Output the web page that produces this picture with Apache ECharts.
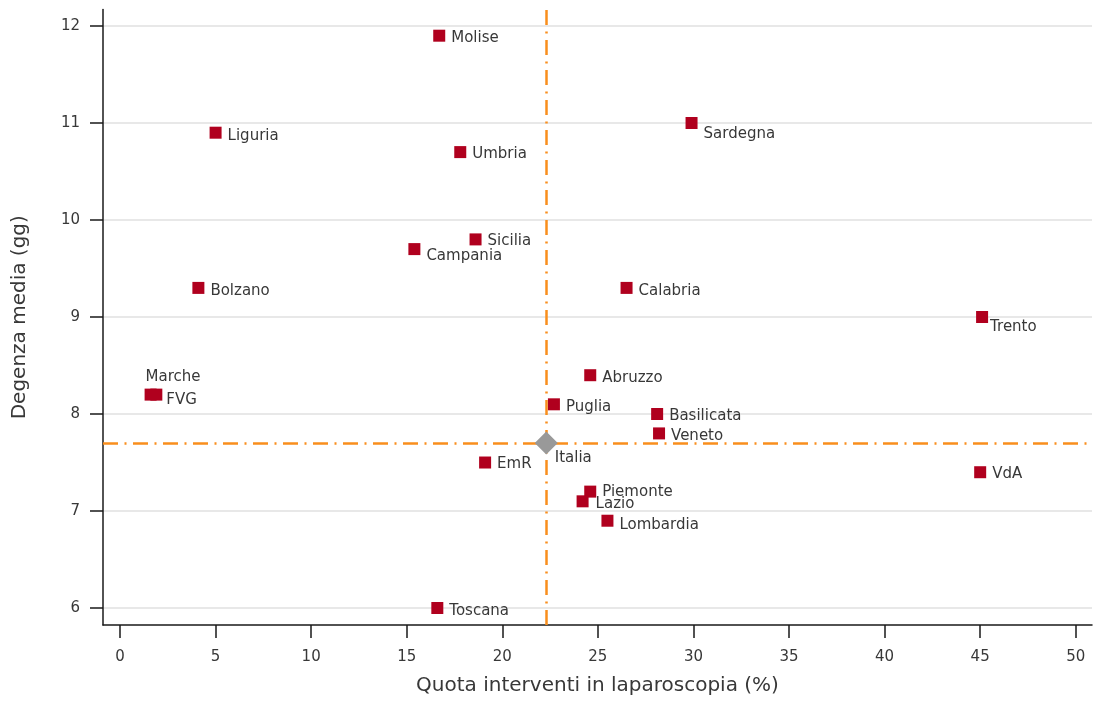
<!DOCTYPE html>
<html>
<head>
<meta charset="utf-8">
<script src="https://cdn.jsdelivr.net/npm/echarts@6/dist/echarts.min.js"></script>
<style>
html,body{margin:0;padding:0;background:#fff;}
#chart{width:1093px;height:711px;}
</style>
</head>
<body>
<div id="chart"></div>
<script>
// ---- Data ----
const regions = ['Molise','Liguria','Sardegna','Umbria','Sicilia','Campania','Bolzano','Calabria','Trento','Abruzzo','Marche','FVG','Puglia','Basilicata','Veneto','EmR','VdA','Piemonte','Lazio','Lombardia','Toscana'];
const quotaLaparoscopia = [16.7, 5.0, 29.9, 17.8, 18.6, 15.4, 4.1, 26.5, 45.1, 24.6, 1.6, 1.9, 22.7, 28.1, 28.2, 19.1, 45.0, 24.6, 24.2, 25.5, 16.6];
const degenzaMedia = [11.9, 10.9, 11.0, 10.7, 9.8, 9.7, 9.3, 9.3, 9.0, 8.4, 8.2, 8.2, 8.1, 8.0, 7.8, 7.5, 7.4, 7.2, 7.1, 6.9, 6.0];
const italiaLabel = 'Italia';
const italiaQuota = 22.3;
const italiaDegenza = 7.7;
const xTickMin = 0, xTickMax = 50, xTickStep = 5;
const yTickMin = 6, yTickMax = 12, yTickStep = 1;
const xTitle = 'Quota interventi in laparoscopia (%)';
const yTitle = 'Degenza media (gg)';

// ---- Label placement (style) ----
const labelOffsets = {
  Sardegna: [0, 11], Campania: [0, 7], Trento: [-4, 10], Marche: [-17, -18],
  FVG: [-2, 5], Piemonte: [0, 0], Lazio: [1, 3], Molise: [0, 2], Umbria: [0, 2],
  Sicilia: [0, 2], Basilicata: [0, 2], EmR: [0, 2], VdA: [0, 2], Lombardia: [0, 4]
};

const FONT = 'DejaVu Sans';
const TXT = '#383838';
const ORANGE = '#f98e1d';
const dash = [15, 6.5, 2, 6.5];

const regionData = regions.map((r, i) => ({
  name: r,
  value: [quotaLaparoscopia[i], degenzaMedia[i]],
  label: { offset: labelOffsets[r] || [0, 3] }
}));

const chart = echarts.init(document.getElementById('chart'), null, { renderer: 'canvas' });
chart.setOption({
  animation: false,
  backgroundColor: '#fff',
  grid: [
    { left: 103, right: 1, top: 9.5, bottom: 86, containLabel: false },
    { left: 120, right: 17.3, top: 9.5, bottom: 86, containLabel: false },
    { left: 103, right: 1, top: 26, bottom: 103, containLabel: false }
  ],
  xAxis: [
    { gridIndex: 0, type: 'value', min: -0.89, max: 50.85,
      axisLine: { show: true, onZero: false, lineStyle: { color: '#1a1a1a', width: 1.5 } },
      axisTick: { show: false }, axisLabel: { show: false }, splitLine: { show: false },
      name: xTitle, nameLocation: 'middle', nameGap: 51,
      nameTextStyle: { fontFamily: FONT, fontSize: 20, color: TXT } },
    { gridIndex: 1, type: 'value', min: xTickMin, max: xTickMax, interval: xTickStep,
      axisLine: { show: false, onZero: false },
      axisTick: { show: true, inside: false, length: 13, lineStyle: { color: '#1a1a1a', width: 1.5 } },
      axisLabel: { show: true, margin: 25, fontFamily: FONT, fontSize: 15, color: TXT },
      splitLine: { show: false } },
    { gridIndex: 2, type: 'value', min: 0, max: 1, show: false }
  ],
  yAxis: [
    { gridIndex: 0, type: 'value', min: 5.825, max: 12.17,
      axisLine: { show: true, onZero: false, lineStyle: { color: '#1a1a1a', width: 1.5 } },
      axisTick: { show: false }, axisLabel: { show: false }, splitLine: { show: false },
      name: yTitle, nameLocation: 'middle', nameGap: 73, nameRotate: 90,
      nameTextStyle: { fontFamily: FONT, fontSize: 20, color: TXT } },
    { gridIndex: 1, type: 'value', min: 0, max: 1, show: false },
    { gridIndex: 2, type: 'value', min: yTickMin, max: yTickMax, interval: yTickStep,
      axisLine: { show: false, onZero: false },
      axisTick: { show: true, inside: false, length: 13, lineStyle: { color: '#1a1a1a', width: 1.5 } },
      axisLabel: { show: true, margin: 23, fontFamily: FONT, fontSize: 15, color: TXT },
      splitLine: { show: true, lineStyle: { color: '#e8e8e8', width: 2 } } }
  ],
  series: [
    { type: 'scatter', xAxisIndex: 0, yAxisIndex: 0, z: 2,
      data: [],
      markLine: {
        silent: true, symbol: 'none', animation: false,
        label: { show: false },
        lineStyle: { color: ORANGE, width: 2.5, type: dash, opacity: 1 },
        data: [{ xAxis: italiaQuota }, { yAxis: italiaDegenza }]
      }
    },
    { type: 'scatter', xAxisIndex: 0, yAxisIndex: 0, z: 5,
      symbol: 'rect', symbolSize: 12,
      itemStyle: { color: '#b0001e', opacity: 1 },
      label: { show: true, position: 'right', distance: 6, formatter: '{b}',
               fontFamily: FONT, fontSize: 15, color: TXT },
      data: regionData
    },
    { type: 'scatter', xAxisIndex: 0, yAxisIndex: 0, z: 10,
      symbol: 'diamond', symbolSize: 23,
      itemStyle: { color: '#999999', opacity: 1 },
      label: { show: true, position: 'right', distance: 6, offset: [-9, 15], formatter: '{b}',
               fontFamily: FONT, fontSize: 15, color: TXT },
      data: [{ name: italiaLabel, value: [italiaQuota, italiaDegenza] }]
    }
  ]
});
</script>
</body>
</html>
